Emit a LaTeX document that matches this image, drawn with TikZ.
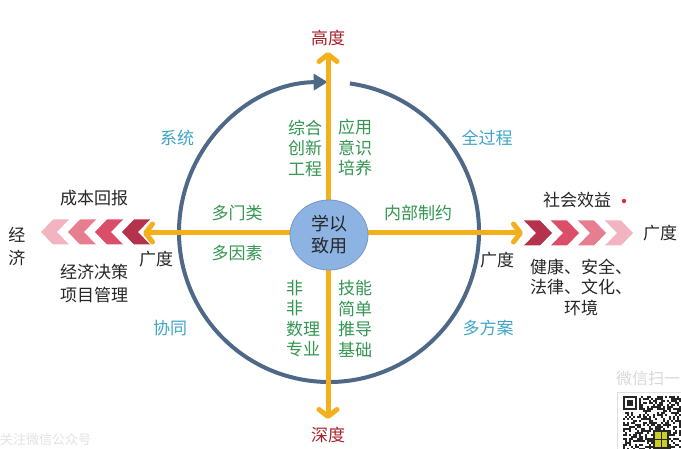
\documentclass[tikz,border=0pt]{standalone}
\usepackage{fontspec}
\setmainfont{Noto Sans CJK SC}
\usetikzlibrary{arrows.meta,shapes.geometric}
\definecolor{orng}{RGB}{244,176,28}
\definecolor{ring}{RGB}{78,104,136}
\definecolor{ballfill}{RGB}{141,179,226}
\definecolor{ballline}{RGB}{118,152,200}
\definecolor{dred}{RGB}{168,32,42}
\definecolor{grn}{RGB}{52,150,82}
\definecolor{tealc}{RGB}{62,165,200}
\definecolor{cA}{RGB}{181,50,76}
\definecolor{cB}{RGB}{219,78,105}
\definecolor{cC}{RGB}{231,126,144}
\definecolor{cD}{RGB}{241,180,192}
\definecolor{dotred}{RGB}{235,40,50}
\definecolor{qrlogo}{RGB}{200,205,40}
\begin{document}
\begin{tikzpicture}[x=1pt,y=-1pt,
  font=\fontsize{17}{20.5}\selectfont,
  lbl/.style={inner sep=0pt, align=center},
  redlbl/.style={lbl, text=dred},
  grnlbl/.style={lbl, text=grn},
  teallbl/.style={lbl, text=tealc},
  blklbl/.style={lbl, text=black!85},
  oarrow/.style={draw=orng, line width=5pt,
    -{Straight Barb[length=7pt,width=18pt,line cap=round,line join=round]}},
  ringline/.style={draw=ring, line width=4pt, -{Triangle[length=14pt,width=16pt]}},
  ball/.style={ellipse, fill=ballfill, draw=ballline, line width=0.8pt,
    minimum width=78pt, minimum height=70pt, inner sep=0pt, align=center,
    font=\fontsize{18}{22}\selectfont, text=black!85}
]
\useasboundingbox (0,0) rectangle (681,449);
\fill[white] (0,0) rectangle (681,449);

% ring
\draw[ringline] (329,232) ++(-82:150) arc[start angle=-82, end angle=269.5, radius=150];

% axes
\coordinate (o) at (328,233);
\coordinate (top) at (328,52);
\coordinate (bot) at (328,419);
\coordinate (lft) at (143,233);
\coordinate (rgt) at (523,233);
\draw[oarrow] (o) -- (top);
\draw[oarrow] (o) -- (bot);
\draw[oarrow] (o) -- (lft);
\draw[oarrow] (o) -- (rgt);

\node[ball] (c) at (329,235) {学以\\致用};

% chevrons right
\foreach \i/\col in {0/cA,1/cB,2/cC,3/cD}
  \fill[\col] ({524+27*\i},220.5) -- ++(16,0) -- ++(12,12.5) -- ++(-12,12.5) -- ++(-16,0) -- ++(12,-12.5) -- cycle;
% chevrons left
\foreach \i/\col in {0/cA,1/cB,2/cC,3/cD}
  \fill[\col] ({150-27*\i},219.5) -- ++(-16,0) -- ++(-12,12.5) -- ++(12,12.5) -- ++(16,0) -- ++(-12,-12.5) -- cycle;

% axis labels
\node[redlbl] (hi) at (328,38) {高度};
\node[redlbl] (dp) at (328,435) {深度};
\node[blklbl] (wl) at (156,259) {广度};
\node[blklbl] (wr) at (497,260) {广度};
\node[blklbl] (wf) at (660,233) {广度};
\node[blklbl, font=\fontsize{17}{23}\selectfont] (jj) at (17,246) {经\\济};

% left side texts
\node[blklbl] (cb) at (94,198) {成本回报};
\node[blklbl, font=\fontsize{17}{23}\selectfont] (jc) at (94,284) {经济决策\\项目管理};

% right side texts
\node[blklbl] (sh) at (577,200) {社会效益};
\fill[dotred] (624,201) circle (2.2pt);
\node[blklbl] (jk) at (581,287) {健康、安全、\\法律、文化、\\环境};

% green labels
\node[grnlbl] (g1) at (305,148) {综合\\创新\\工程};
\node[grnlbl] (g2) at (355,148) {应用\\意识\\培养};
\node[grnlbl] (g3) at (237,213) {多门类};
\node[grnlbl] (g4) at (418,213) {内部制约};
\node[grnlbl] (g5) at (237,253) {多因素};
\node[grnlbl, align=left, anchor=north west] (g6) at (286,280) {非\\非\\数理\\专业};
\node[grnlbl, anchor=north] (g7) at (355,280) {技能\\简单\\推导\\基础};

% teal labels
\node[teallbl] (t1) at (177,138) {系统};
\node[teallbl] (t2) at (487,138) {全过程};
\node[teallbl] (t3) at (170,328) {协同};
\node[teallbl] (t4) at (488,328) {多方案};

% watermark / QR
\node[lbl, text=gray!30, anchor=west, font=\fontsize{16}{18}\selectfont] (wm1) at (616,378) {微信扫一};
\node[lbl, text=gray!22, anchor=west, font=\fontsize{13}{15}\selectfont] (wm2) at (0,440) {关注微信公众号};
\draw[gray!25, line width=0.6pt] (617,392) rectangle (690,460);
\pgfmathsetseed{12}
\foreach \r in {0,...,26}
  \foreach \c in {0,...,28} {
    \pgfmathtruncatemacro\bb{rnd>0.52}
    \ifnum\bb=1 \fill[black!85] ({623+2*\c},{396+2*\r}) rectangle ++(2,2); \fi
  }
\fill[white] (622,395) rectangle (639,412);
\fill[black!85] (623,396) rectangle (637,410);
\fill[white] (625,398) rectangle (635,408);
\fill[black!85] (627,400) rectangle (633,406);
\fill[black!85] (653,430) rectangle (669,449);
\fill[qrlogo] (655,432) rectangle (667,447);
\draw[black!85, line width=0.8pt] (655,439.5) -- (667,439.5) (661,432) -- (661,447);
\end{tikzpicture}
\end{document}
